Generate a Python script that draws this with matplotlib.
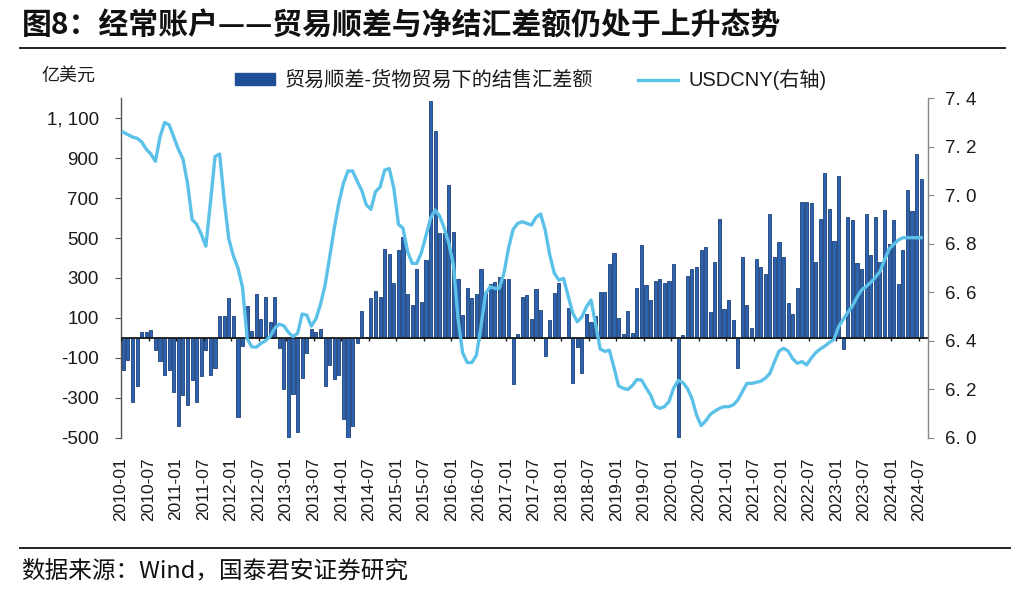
import matplotlib
matplotlib.use("Agg")
import matplotlib.pyplot as plt
from matplotlib.patches import Patch
from matplotlib.lines import Line2D
import numpy as np

plt.rcParams['font.family'] = ['Liberation Sans', 'Noto Sans CJK SC', 'DejaVu Sans']

# ---------------- data ----------------
start_year, start_month = 2010, 1
n_months = 175  # 2010-01 .. 2024-07

trade_fx_balance = [
    -163, -113, -320, -240, 30, 30, 38, -62, -115, -188, -163, -272,
    -440, -288, -335, -213, -322, -193, -62, -188, -151, 110, 110, 198,
    110, -397, -40, 158, 33, 220, 94, 206, 80, 203, -50, -255,
    -512, -283, -470, -200, -74, 42, 27, 47, -243, -135, -204, -188,
    -405, -512, -440, -24, 137, 5, 200, 236, 205, 446, 420, 273,
    440, 504, 219, 164, 345, 181, 392, 1187, 1038, 524, 524, 768,
    532, 295, 114, 252, 198, 219, 343, 223, 270, 281, 306, 293,
    293, -230, 21, 205, 214, 97, 244, 142, -90, 92, 226, 275,
    5, 152, -228, -48, -177, 122, 80, 109, 230, 230, 370, 424,
    102, 17, 134, 26, 248, 463, 265, 189, 286, 295, 276, 285,
    368, -512, 13, 310, 343, 355, 440, 457, 130, 382, 597, 147,
    189, 88, -151, 407, 167, 50, 395, 353, 320, 622, 407, 482,
    407, 177, 120, 248, 680, 680, 675, 382, 597, 826, 647, 483,
    810, -57, 604, 591, 376, 343, 620, 416, 604, 380, 638, 470,
    592, 270, 442, 742, 633, 923, 798,
]

usdcny = [
    7.26, 7.25, 7.24, 7.235, 7.22, 7.19, 7.17, 7.14, 7.24, 7.30, 7.29, 7.24,
    7.19, 7.15, 7.05, 6.90, 6.88, 6.84, 6.79, 6.97, 7.16, 7.17, 6.98, 6.82,
    6.75, 6.70, 6.62, 6.41, 6.375, 6.373, 6.389, 6.40, 6.417, 6.451, 6.468, 6.462,
    6.435, 6.417, 6.43, 6.51, 6.506, 6.46, 6.49, 6.55, 6.63, 6.745, 6.864, 6.968,
    7.05, 7.10, 7.10, 7.058, 7.02, 6.96, 6.942, 7.015, 7.034, 7.104, 7.11, 7.028,
    6.88, 6.864, 6.767, 6.719, 6.719, 6.763, 6.833, 6.905, 6.939, 6.914, 6.864, 6.80,
    6.712, 6.49, 6.35, 6.31, 6.31, 6.34, 6.458, 6.595, 6.623, 6.616, 6.616, 6.678,
    6.781, 6.859, 6.884, 6.891, 6.884, 6.877, 6.909, 6.923, 6.857, 6.754, 6.678, 6.65,
    6.657, 6.585, 6.515, 6.478, 6.498, 6.54, 6.568, 6.468, 6.366, 6.356, 6.361, 6.29,
    6.214, 6.204, 6.199, 6.215, 6.24, 6.238, 6.206, 6.176, 6.13, 6.121, 6.128, 6.149,
    6.204, 6.236, 6.228, 6.204, 6.162, 6.094, 6.05, 6.069, 6.096, 6.11, 6.121, 6.128,
    6.128, 6.135, 6.155, 6.19, 6.224, 6.224, 6.228, 6.233, 6.245, 6.265, 6.313, 6.357,
    6.369, 6.357, 6.325, 6.307, 6.314, 6.30, 6.327, 6.351, 6.366, 6.378, 6.393, 6.406,
    6.458, 6.488, 6.517, 6.543, 6.579, 6.61, 6.623, 6.641, 6.661, 6.685, 6.733, 6.778,
    6.797, 6.815, 6.825, 6.825, 6.825, 6.825, 6.825,
]

month_labels = [f"{start_year + (start_month - 1 + k) // 12}-{(start_month - 1 + k) % 12 + 1:02d}"
                for k in range(n_months)]

left_ticks = [-500, -300, -100, 100, 300, 500, 700, 900, 1100]
left_tick_labels = ["-500", "-300", "-100", "100", "300", "500", "700", "900", "1, 100"]
right_ticks = [6.0, 6.2, 6.4, 6.6, 6.8, 7.0, 7.2, 7.4]
right_tick_labels = ["6. 0", "6. 2", "6. 4", "6. 6", "6. 8", "7. 0", "7. 2", "7. 4"]

title = "图8：经常账户——贸易顺差与净结汇差额仍处于上升态势"
bar_name = "贸易顺差-货物贸易下的结售汇差额"
line_name = "USDCNY(右轴)"
unit_label = "亿美元"
source = "数据来源：Wind，国泰君安证券研究"

# ---------------- plot ----------------
BAR_FACE = "#2d62ad"
BAR_EDGE = "#1b3f78"
LINE_C = "#5cc1e8"

fig = plt.figure(figsize=(10.24, 5.92), dpi=100)
ax = fig.add_axes([0.1182, 0.2606, 0.7881, 0.5734])
ax2 = ax.twinx()

x = np.arange(n_months)
ax.bar(x, trade_fx_balance, width=0.68, color=BAR_FACE, edgecolor=BAR_EDGE,
       linewidth=0.6, zorder=2)
ax.set_ylim(-500, 1200)
ax.set_xlim(-0.5, n_months + 0.5)

# zero line with half-year ticks
ax.axhline(0, color="#1a1a1a", lw=1.3, zorder=3)
tick_pos = x[::6] - 0.5
ax.vlines(tick_pos, -16, 0, color="#1a1a1a", lw=1.0, zorder=3)

ax.set_xticks(tick_pos)
ax.set_xticklabels([month_labels[k] for k in x[::6]], rotation=90, fontsize=12.5,
                   color="#1a1a1a")
ax.tick_params(axis='x', length=0, pad=14)

ax.set_yticks(left_ticks)
ax.set_yticklabels(left_tick_labels, fontsize=13.5, color="#1a1a1a")
ax.tick_params(axis='y', direction='out', length=4, color="#555555", pad=12)

for s in ["top", "bottom", "right"]:
    ax.spines[s].set_visible(False)
ax.spines["left"].set_color("#555555")
ax.spines["left"].set_linewidth(1.0)

ax2.plot(x, usdcny, color=LINE_C, lw=2.4, zorder=4, solid_joinstyle='round')
ax2.set_ylim(6.0, 7.4)
ax2.set_yticks(right_ticks)
ax2.set_yticklabels(right_tick_labels, fontsize=13.5, color="#1a1a1a")
ax2.tick_params(axis='y', direction='out', length=4, color="#888888", pad=8)
for s in ["top", "bottom", "left"]:
    ax2.spines[s].set_visible(False)
ax2.spines["right"].set_color("#888888")
ax2.spines["right"].set_linewidth(1.0)

# legend
handles = [Patch(facecolor="#1f4f96", edgecolor="#1f4f96"),
           Line2D([0], [0], color=LINE_C, lw=2.4)]
leg = fig.legend(handles, [bar_name, line_name], loc="center",
                 bbox_to_anchor=(0.518, 0.865), ncol=2, frameon=False,
                 fontsize=14.5, handlelength=2.0, handleheight=0.5,
                 handletextpad=0.5, columnspacing=2.2)
for t in leg.get_texts():
    t.set_color("#1a1a1a")

fig.text(0.040, 0.872, unit_label, fontsize=13, color="#1a1a1a",
         family=['Noto Sans CJK SC'], va="center", ha="left")

# title and rules
fig.text(0.021, 0.957, title, fontsize=21.5, fontweight="bold", color="#111111",
         family=['Noto Sans CJK SC'], va="center", ha="left")
fig.add_artist(Line2D([0.0195, 0.981], [0.919, 0.919], color="#222222", lw=1.4,
                      transform=fig.transFigure))
fig.add_artist(Line2D([0.0195, 0.986], [0.0743, 0.0743], color="#222222", lw=1.4,
                      transform=fig.transFigure))
fig.text(0.021, 0.036, source, fontsize=17, color="#111111",
         family=['Noto Sans CJK SC'], va="center", ha="left")

fig.savefig("out.png", dpi=100)
